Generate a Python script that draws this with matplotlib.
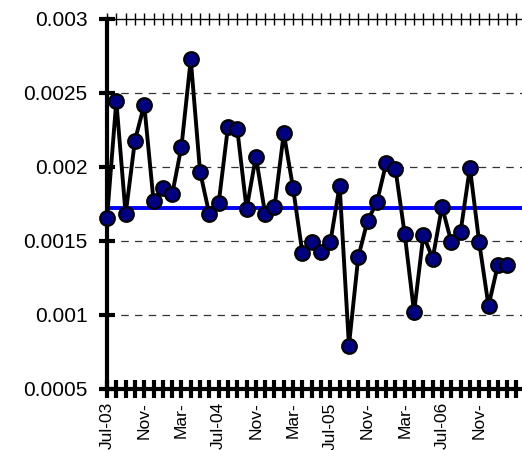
import matplotlib.pyplot as plt
import numpy as np

plt.rcParams['font.family'] = ['Liberation Sans', 'DejaVu Sans']

# monthly values, Jul-03 .. Feb-07
values = [0.001655, 0.002446, 0.00168, 0.002178, 0.002421, 0.00177, 0.00186,
          0.001815, 0.002137, 0.002728, 0.001968, 0.00168, 0.001755, 0.002272,
          0.002255, 0.001716, 0.00207, 0.00168, 0.001728, 0.002228, 0.001856,
          0.001417, 0.001495, 0.001423, 0.001491, 0.001874, 0.000793, 0.00139,
          0.001637, 0.001761, 0.002025, 0.001986, 0.001545, 0.001018, 0.00154,
          0.001381, 0.001732, 0.001495, 0.001563, 0.001996, 0.001491, 0.001061,
          0.001336, 0.001336]
mean_value = 0.001723
tick_labels = ['Jul-03', 'Nov-', 'Mar-', 'Jul-04', 'Nov-', 'Mar-',
               'Jul-05', 'Nov-', 'Mar-', 'Jul-06', 'Nov-']
y_ticks = [0.0005, 0.001, 0.0015, 0.002, 0.0025, 0.003]


def main():
    fig = plt.figure(figsize=(5.22, 4.5), dpi=100)
    ax = fig.add_axes([0.205, 0.1356, 0.795, 0.8222])
    x = np.arange(len(values))

    for yv in y_ticks[1:-1]:
        ax.axhline(yv, color='#333333', lw=0.9, ls=(0, (6, 5)), zorder=1)

    ax.axhline(mean_value, color='#0000FF', lw=2.8, zorder=2)
    ax.plot(x, values, '-o', color='black', lw=2.8, ms=10.5,
            mfc='#000080', mec='black', mew=1.6, zorder=3, clip_on=False)

    ax.set_xlim(0, 44.6)
    ax.set_ylim(0.0005, 0.003)
    ax.set_yticks(y_ticks)
    ax.set_yticklabels(['0.0005', '0.001', '0.0015', '0.002', '0.0025', '0.003'])
    ax.set_xticks(np.arange(0, len(values), 4))
    ax.set_xticklabels(tick_labels, rotation=90)
    ax.set_xticks(np.arange(len(values) + 1), minor=True)

    for s in ['left', 'bottom']:
        ax.spines[s].set_linewidth(3)
    ax.spines['right'].set_visible(False)
    ax.spines['top'].set_linewidth(1)

    ax.tick_params(axis='y', direction='inout', length=12, width=3,
                   labelsize=15, pad=8)
    ax.tick_params(axis='x', which='both', direction='inout', length=13,
                   width=3, top=True, labelsize=12.5, pad=3)
    # thin ticks on the top line
    for tk in ax.xaxis.get_minor_ticks() + ax.xaxis.get_major_ticks():
        tk.tick2line.set_markeredgewidth(1)
        tk.tick2line.set_markersize(8)

    fig.savefig('out.png', dpi=100)


if __name__ == "__main__":
    main()
